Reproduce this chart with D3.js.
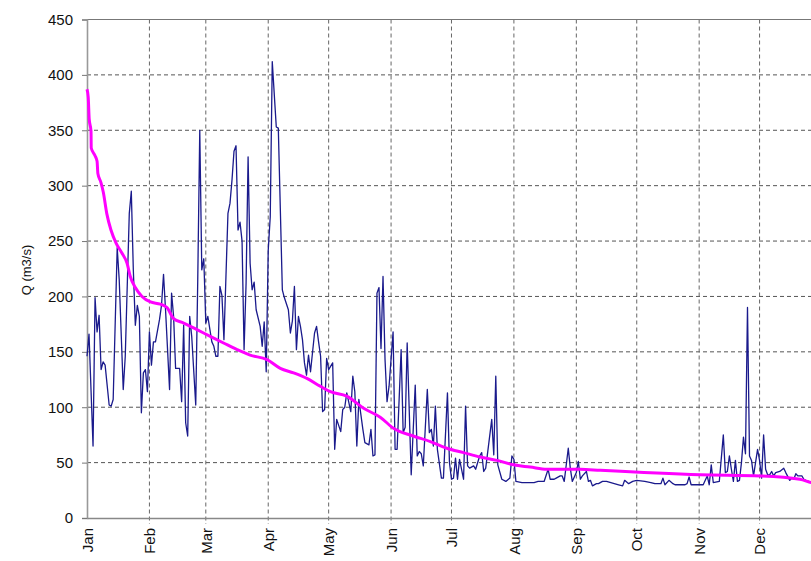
<!DOCTYPE html>
<html>
<head>
<meta charset="utf-8">
<script src="https://cdn.jsdelivr.net/npm/d3@7"></script>
<style>
  body { margin: 0; background: #fff; }
  svg { display: block; font-family: "Liberation Sans", Arial, sans-serif; }
</style>
</head>
<body>
<div id="container"></div>
<script>
/**
 * CONSTANTS AND GLOBALS
 * */
const width = 811,
  height = 561,
  margin = { top: 19.5, bottom: 43, left: 87, right: -11 };

let svg;

/**
 * DATA
 * day of year (0 = Jan 1) and discharge in m3/s
 * */
const dailyDays = [0, 1, 3, 4, 5, 6, 7, 8, 9, 11, 12, 13, 15, 16, 18, 19, 21, 22, 23, 24, 25, 26, 27, 28, 29, 30,
  31, 32, 33, 34, 36, 37, 38, 39, 40, 41, 42, 43, 44, 46, 47, 48, 49, 50, 51, 52, 54, 55, 56, 57, 58, 59, 60,
  62, 63, 64, 65, 66, 67, 68, 70, 71, 72, 73, 74, 75, 76, 77, 78, 79, 80, 81, 82, 83, 84, 86, 87, 88, 89,
  90, 91, 92, 94, 95, 97, 98, 100, 101, 102, 103, 104, 105, 106, 107, 108, 109, 110, 111, 113, 114, 115,
  116, 117, 118, 119, 120, 122, 123, 124, 126, 127, 128, 129, 131, 132, 133, 134, 135, 137, 138, 140, 141,
  142, 143, 144, 145, 146, 147, 148, 149, 150, 152, 153, 154, 156, 157, 158, 159, 161, 163, 164, 165, 166,
  167, 169, 170, 171, 172, 173, 174, 176, 177, 179, 180, 181, 182, 183, 184, 185, 187, 188, 189, 190, 192,
  193, 195, 196, 197, 198, 201, 202, 203, 204, 206, 208, 210, 211, 212, 213, 216, 222, 224, 227, 229, 230,
  232, 233, 235, 236, 237, 239, 240, 241, 243, 244, 245, 246, 248, 249, 250, 251, 253, 254, 256, 258, 264,
  266, 267, 269, 271, 273, 277, 280, 282, 285, 286, 287, 289, 291, 292, 297, 298, 299, 300, 304, 306, 308,
  309, 310, 311, 314, 316, 317, 318, 319, 320, 321, 322, 323, 324, 325, 326, 327, 328, 329, 330, 331, 332,
  333, 334, 335, 336, 337, 338, 339, 340, 341, 342, 344, 346, 347, 349, 350, 351, 352, 353, 355, 356, 357,
  360, 362, 364];

const dailyQ = [146, 166, 65, 199, 168, 183, 134, 141, 138, 102, 101, 107, 244, 215, 116, 146, 275, 295, 224, 174, 192, 182, 95, 131, 134, 114,
  168, 138, 159, 159, 179, 192, 220, 188, 152, 116, 203, 182, 135, 135, 105, 174, 86, 74, 182, 164, 102, 215, 350, 224, 234, 176, 182,
  159, 155, 146, 146, 209, 201, 161, 275, 284, 305, 331, 336, 260, 267, 250, 152, 212, 326, 230, 206, 213, 188, 173, 155, 177, 132,
  242, 272, 412, 353, 352, 206, 199, 188, 167, 178, 209, 152, 182, 173, 161, 140, 129, 147, 132, 167, 173, 159,
  146, 96, 98, 144, 134, 140, 62, 89, 78, 98, 100, 113, 96, 128, 114, 65, 107, 80, 68, 66, 80,
  56, 57, 203, 208, 153, 218, 143, 105, 119, 168, 62, 62, 152, 77, 82, 158, 39, 120, 56, 60, 58,
  47, 116, 77, 80, 65, 101, 62, 36, 36, 113, 50, 35, 36, 54, 35, 53, 35, 101, 47, 45, 47,
  44, 56, 59, 42, 45, 89, 57, 128, 48, 35, 33, 36, 56, 53, 33, 32, 32, 33, 33, 44, 35,
  35, 36, 38, 38, 33, 63, 45, 33, 41, 51, 35, 38, 42, 33, 34, 29, 31, 31, 33, 33, 30,
  29, 34, 31, 33, 34, 33, 32, 31, 31, 36, 30, 34, 31, 30, 30, 31, 37, 30, 30, 30, 38,
  30, 48, 32, 33, 75, 41, 42, 56, 44, 33, 52, 33, 34, 50, 73, 58, 190, 56, 52, 38, 50,
  62, 52, 36, 75, 44, 39, 39, 42, 38, 41, 42, 45, 41, 34, 36, 35, 40, 38, 38, 35, 34,
  32, 31, 30];

// falling reference curve (magenta)
const curveDays = [0, 0.6, 1.1, 2, 2.1, 4, 5, 5.4, 6.9, 8.1, 9.8, 11.9, 14.5, 17.4, 19.9, 21.5, 24, 27.3, 31.5,
  36.4, 39.7, 43, 48, 54.6, 61.2, 67.8, 74.5, 81, 89.4, 96, 102.6, 109.2, 115.8, 120.9, 129, 137.4, 145.6,
  152.2, 162, 170.5, 178.7, 187, 195.3, 203.6, 211.8, 220.1, 228.4, 236.7, 245, 254.9, 304.6, 334.4, 354,
  359.6, 365];
const curveQ = [387, 380, 360, 349, 334, 327, 322, 311, 303, 294, 275, 260, 248, 239, 230, 218, 208, 200, 195,
  193, 190, 180, 176, 170, 164, 158, 152, 147, 143, 135, 131, 126, 119, 114, 110, 99, 91,
  81, 74, 69, 63, 59, 55, 52, 48, 46, 44, 44, 44, 43, 39, 38, 35,
  32, 30];

const yTicks = [0, 50, 100, 150, 200, 250, 300, 350, 400, 450];
const monthLabels = ["Jan", "Feb", "Mar", "Apr", "May", "Jun", "Jul", "Aug", "Sep", "Oct", "Nov", "Dec"];
const monthStarts = [0, 31, 59, 90, 120, 151, 181, 212, 243, 273, 304, 334];

/**
 * DRAW
 * */
svg = d3.select("#container")
  .append("svg")
  .attr("width", width)
  .attr("height", height);

const xScale = d3.scaleLinear()
  .domain([0, 365])
  .range([margin.left, width - margin.right]);

const yScale = d3.scaleLinear()
  .domain([0, 450])
  .range([height - margin.bottom, margin.top]);

// horizontal grid
svg.append("g")
  .selectAll("line")
  .data(yTicks.slice(1, -1))
  .join("line")
  .attr("x1", margin.left)
  .attr("x2", width - margin.right)
  .attr("y1", d => yScale(d))
  .attr("y2", d => yScale(d))
  .attr("stroke", "#555")
  .attr("stroke-width", 1)
  .attr("stroke-dasharray", "4,3");

// vertical grid (goes a bit below the axis like ticks)
svg.append("g")
  .selectAll("line")
  .data(monthStarts.slice(1))
  .join("line")
  .attr("x1", d => xScale(d))
  .attr("x2", d => xScale(d))
  .attr("y1", margin.top)
  .attr("y2", height - margin.bottom + 6)
  .attr("stroke", "#666")
  .attr("stroke-width", 1)
  .attr("stroke-dasharray", "4,3");

// top border
svg.append("line")
  .attr("x1", margin.left)
  .attr("x2", width - margin.right)
  .attr("y1", yScale(450))
  .attr("y2", yScale(450))
  .attr("stroke", "#777");

// y axis
const yAxis = d3.axisLeft(yScale)
  .tickValues(yTicks)
  .tickSize(5)
  .tickPadding(9);

svg.append("g")
  .attr("transform", `translate(${margin.left},0)`)
  .call(yAxis)
  .call(g => g.select(".domain").attr("stroke", "#999").attr("stroke-width", 1.6))
  .call(g => g.selectAll(".tick line").attr("stroke", "#777"))
  .call(g => g.selectAll("text").attr("font-size", 15).attr("fill", "#111"));

// x axis
const xAxis = d3.axisBottom(xScale)
  .tickValues(monthStarts)
  .tickFormat((d, i) => monthLabels[i])
  .tickSize(0)
  .tickPadding(10);

svg.append("g")
  .attr("transform", `translate(0,${height - margin.bottom})`)
  .call(xAxis)
  .call(g => g.select(".domain").attr("stroke", "#888").attr("stroke-width", 1.4))
  .call(g => g.selectAll("text")
    .attr("font-size", 15)
    .attr("fill", "#111")
    .attr("text-anchor", "end")
    .attr("dy", "0.35em")
    .attr("transform", "rotate(-90)")
    .attr("x", -10)
    .attr("y", 0));

svg.append("text")
  .attr("transform", "translate(31,270) rotate(-90)")
  .attr("text-anchor", "middle")
  .attr("font-size", 13)
  .attr("fill", "#111")
  .text("Q (m3/s)");

// series
const daily = dailyDays.map((d, i) => ({ day: d, q: dailyQ[i] }));
const curve = curveDays.map((d, i) => ({ day: d, q: curveQ[i] }));

const line = d3.line()
  .x(d => xScale(d.day))
  .y(d => yScale(d.q));

svg.append("path")
  .datum(daily)
  .attr("d", line)
  .attr("fill", "none")
  .attr("stroke", "#1a1a8c")
  .attr("stroke-width", 1.3)
  .attr("stroke-linejoin", "round");

svg.append("path")
  .datum(curve)
  .attr("d", line.curve(d3.curveMonotoneX))
  .attr("fill", "none")
  .attr("stroke", "#ff00ff")
  .attr("stroke-width", 3)
  .attr("stroke-linejoin", "round");
</script>
</body>
</html>
